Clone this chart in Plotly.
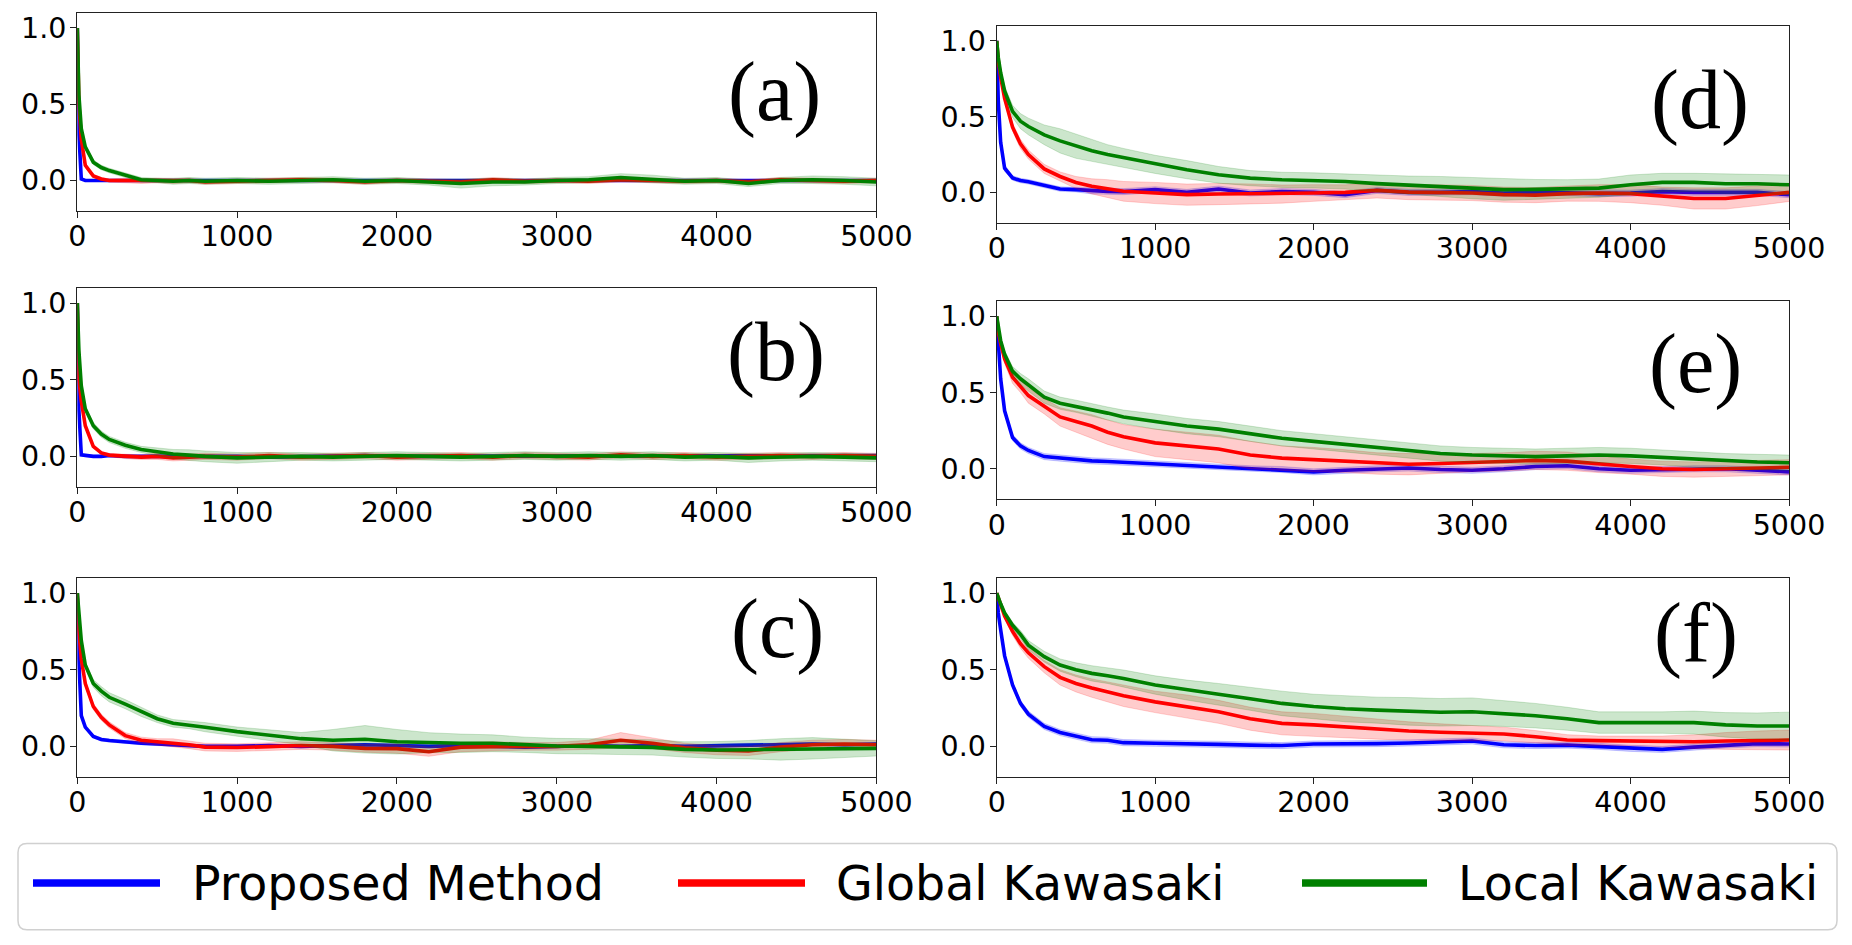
import numpy as np
import plotly.graph_objects as go

# ---------------- data ----------------
STEPS = [0, 10, 25, 50, 100, 150, 200, 300, 400, 500, 600, 700, 800, 1000, 1200, 1400, 1600,
         1800, 2000, 2200, 2400, 2600, 2800, 3000, 3200, 3400, 3600, 3800, 4000, 4200, 4400,
         4600, 4800, 5000]
X_TICKS = [0, 1000, 2000, 3000, 4000, 5000]
Y_TICKS = [0.0, 0.5, 1.0]
SERIES_NAMES = ["Proposed Method", "Global Kawasaki", "Local Kawasaki"]
PANEL_LABELS = ["(a)", "(b)", "(c)", "(d)", "(e)", "(f)"]

# (a)
a_blue = [1.0, 0.30, 0.01, 0.0, 0.0, 0.0, 0.0, 0.0, 0.0, 0.0, 0.0, 0.0, 0.0, 0.0, 0.0, 0.0, 0.0,
          0.0, 0.0, 0.0, 0.0, 0.0, 0.0, 0.0, 0.0, 0.0, 0.0, 0.0, 0.0, 0.0, 0.0, 0.0, 0.0, 0.0]
a_blue_sd = [0.0, 0.01, 0.005, 0.005, 0.005, 0.005, 0.005, 0.005, 0.005, 0.005, 0.005, 0.005,
             0.005, 0.005, 0.005, 0.005, 0.005, 0.005, 0.005, 0.005, 0.005, 0.005, 0.005, 0.005,
             0.005, 0.005, 0.005, 0.005, 0.005, 0.005, 0.005, 0.005, 0.005, 0.005]
a_red = [1.0, 0.50, 0.27, 0.10, 0.03, 0.01, 0.0, 0.0, -0.005, 0.0, -0.005, 0.0, -0.01, -0.005,
         0.0, 0.005, 0.0, -0.01, 0.0, -0.005, -0.01, 0.005, -0.005, 0.0, -0.005, 0.005, 0.0,
         -0.005, 0.0, -0.01, 0.005, 0.0, -0.005, 0.0]
a_red_sd = [0.0, 0.02, 0.02, 0.015, 0.01, 0.01, 0.01, 0.015, 0.015, 0.015, 0.015, 0.015, 0.015,
            0.015, 0.015, 0.015, 0.015, 0.015, 0.015, 0.015, 0.015, 0.015, 0.015, 0.015, 0.015,
            0.015, 0.015, 0.015, 0.015, 0.015, 0.015, 0.015, 0.015, 0.015]
a_green = [1.0, 0.56, 0.34, 0.22, 0.12, 0.085, 0.065, 0.035, 0.005, 0.0, -0.005, 0.0, -0.005,
           0.0, -0.005, 0.0, 0.005, -0.005, 0.0, -0.01, -0.02, -0.01, -0.01, 0.0, 0.005, 0.02,
           0.01, -0.005, 0.0, -0.02, 0.0, 0.005, 0.0, -0.01]
a_green_sd = [0.0, 0.01, 0.01, 0.015, 0.015, 0.015, 0.015, 0.015, 0.015, 0.015, 0.02, 0.02, 0.02,
              0.02, 0.02, 0.02, 0.02, 0.02, 0.02, 0.02, 0.03, 0.025, 0.02, 0.02, 0.02, 0.025,
              0.025, 0.02, 0.02, 0.02, 0.02, 0.025, 0.025, 0.025]

# (b)
b_blue = [1.0, 0.30, 0.01, 0.005, 0.0, 0.0, 0.005, 0.0, 0.0, 0.005, 0.0, 0.0, 0.0, 0.0, -0.005,
          0.0, 0.0, 0.005, 0.0, 0.0, 0.005, 0.0, 0.0, 0.0, 0.005, 0.0, 0.0, 0.005, 0.0, 0.0,
          0.0, 0.005, 0.0, 0.005]
b_blue_sd = [0.0, 0.01, 0.008, 0.008, 0.008, 0.008, 0.008, 0.008, 0.008, 0.008, 0.008, 0.008,
             0.008, 0.008, 0.008, 0.008, 0.008, 0.008, 0.008, 0.008, 0.008, 0.008, 0.008, 0.008,
             0.008, 0.008, 0.008, 0.008, 0.008, 0.008, 0.008, 0.008, 0.008, 0.008]
b_red = [1.0, 0.50, 0.36, 0.20, 0.065, 0.022, 0.008, 0.0, -0.005, 0.0, -0.01, -0.005, 0.0,
         -0.005, 0.005, -0.005, 0.0, 0.005, -0.005, 0.0, 0.005, -0.005, 0.005, 0.0, -0.005,
         0.01, 0.0, 0.005, -0.005, 0.0, 0.005, 0.0, 0.005, 0.0]
b_red_sd = [0.0, 0.02, 0.02, 0.015, 0.01, 0.01, 0.01, 0.015, 0.015, 0.02, 0.02, 0.02, 0.02,
            0.02, 0.02, 0.02, 0.02, 0.02, 0.02, 0.02, 0.02, 0.02, 0.02, 0.02, 0.02, 0.02, 0.02,
            0.02, 0.02, 0.02, 0.02, 0.02, 0.02, 0.02]
b_green = [1.0, 0.69, 0.46, 0.31, 0.20, 0.145, 0.11, 0.072, 0.045, 0.03, 0.015, 0.008, 0.0,
           -0.01, -0.005, 0.0, -0.005, 0.0, 0.005, 0.0, -0.005, 0.0, 0.005, 0.0, 0.005, 0.0,
           0.005, -0.005, 0.0, -0.01, -0.005, 0.0, -0.005, -0.01]
b_green_sd = [0.0, 0.01, 0.015, 0.015, 0.02, 0.02, 0.02, 0.02, 0.02, 0.025, 0.03, 0.035, 0.035,
              0.035, 0.03, 0.025, 0.025, 0.025, 0.025, 0.025, 0.025, 0.025, 0.025, 0.025, 0.025,
              0.025, 0.025, 0.025, 0.025, 0.03, 0.025, 0.025, 0.025, 0.025]

# (c)
c_blue = [1.0, 0.55, 0.20, 0.125, 0.065, 0.045, 0.038, 0.028, 0.02, 0.015, 0.01, 0.003, 0.0,
          0.0, 0.005, 0.0, 0.005, 0.01, 0.005, 0.0, 0.005, 0.0, -0.005, 0.0, 0.005, 0.0, 0.005,
          0.0, 0.005, 0.01, 0.01, 0.015, 0.01, 0.015]
c_blue_sd = [0.0, 0.02, 0.015, 0.01, 0.01, 0.01, 0.01, 0.01, 0.01, 0.01, 0.01, 0.01, 0.01,
             0.01, 0.01, 0.01, 0.01, 0.01, 0.01, 0.01, 0.01, 0.01, 0.01, 0.01, 0.01, 0.01, 0.01,
             0.01, 0.01, 0.01, 0.01, 0.01, 0.01, 0.01]
c_red = [1.0, 0.75, 0.57, 0.41, 0.26, 0.19, 0.14, 0.07, 0.04, 0.03, 0.024, 0.01, -0.005, -0.008,
         -0.002, 0.005, 0.0, -0.013, -0.015, -0.035, -0.005, 0.0, 0.0, 0.0, 0.01, 0.04, 0.02,
         -0.01, -0.025, -0.03, -0.005, 0.01, 0.015, 0.01]
c_red_sd = [0.0, 0.01, 0.015, 0.02, 0.02, 0.02, 0.02, 0.02, 0.02, 0.02, 0.025, 0.025, 0.025,
            0.025, 0.025, 0.025, 0.025, 0.025, 0.03, 0.03, 0.03, 0.03, 0.025, 0.025, 0.03, 0.05,
            0.035, 0.03, 0.03, 0.03, 0.03, 0.03, 0.03, 0.03]
c_green = [1.0, 0.85, 0.69, 0.53, 0.41, 0.36, 0.32, 0.275, 0.225, 0.18, 0.15, 0.14, 0.125,
           0.096, 0.074, 0.05, 0.04, 0.046, 0.03, 0.024, 0.02, 0.02, 0.01, 0.002, 0.0, -0.005,
           -0.007, -0.02, -0.024, -0.022, -0.02, -0.013, -0.012, -0.013]
c_green_sd = [0.0, 0.01, 0.015, 0.02, 0.025, 0.03, 0.03, 0.03, 0.03, 0.025, 0.025, 0.025, 0.03,
              0.03, 0.035, 0.04, 0.07, 0.09, 0.08, 0.065, 0.06, 0.055, 0.05, 0.05, 0.05, 0.05,
              0.05, 0.05, 0.055, 0.06, 0.07, 0.07, 0.06, 0.05]

# (d)
d_blue = [1.0, 0.60, 0.33, 0.16, 0.095, 0.078, 0.07, 0.044, 0.022, 0.018, 0.01, 0.007, 0.005,
          0.018, 0.0, 0.022, -0.004, 0.005, 0.0, -0.015, 0.013, 0.0, 0.0, 0.005, -0.005, 0.0,
          -0.002, -0.008, -0.005, 0.005, 0.0, 0.0, 0.0, -0.015]
d_blue_sd = [0.0, 0.02, 0.02, 0.02, 0.015, 0.015, 0.015, 0.015, 0.015, 0.015, 0.02, 0.02, 0.02,
             0.02, 0.02, 0.02, 0.02, 0.02, 0.02, 0.02, 0.02, 0.02, 0.02, 0.02, 0.02, 0.02, 0.02,
             0.02, 0.02, 0.02, 0.02, 0.02, 0.02, 0.02]
d_red = [1.0, 0.87, 0.76, 0.62, 0.43, 0.32, 0.25, 0.155, 0.105, 0.065, 0.04, 0.024, 0.007,
         -0.004, -0.015, -0.011, -0.009, -0.011, -0.004, 0.0, 0.013, 0.002, 0.0, -0.004,
         -0.015, -0.018, -0.008, -0.004, -0.008, -0.025, -0.04, -0.04, -0.022, 0.0]
d_red_sd = [0.0, 0.01, 0.015, 0.02, 0.025, 0.03, 0.03, 0.03, 0.03, 0.04, 0.05, 0.06, 0.065, 0.07,
            0.07, 0.07, 0.065, 0.06, 0.055, 0.05, 0.05, 0.05, 0.05, 0.05, 0.05, 0.05, 0.05,
            0.055, 0.06, 0.06, 0.07, 0.07, 0.065, 0.06]
d_green = [1.0, 0.89, 0.79, 0.67, 0.535, 0.47, 0.435, 0.38, 0.34, 0.305, 0.275, 0.25, 0.23,
           0.185, 0.15, 0.116, 0.094, 0.083, 0.079, 0.072, 0.058, 0.048, 0.04, 0.028, 0.018,
           0.02, 0.024, 0.028, 0.05, 0.066, 0.066, 0.057, 0.057, 0.05]
d_green_sd = [0.0, 0.01, 0.02, 0.03, 0.04, 0.05, 0.055, 0.065, 0.08, 0.08, 0.07, 0.065, 0.06,
              0.06, 0.06, 0.055, 0.05, 0.05, 0.05, 0.05, 0.055, 0.06, 0.065, 0.07, 0.07, 0.065,
              0.06, 0.06, 0.065, 0.06, 0.06, 0.065, 0.065, 0.065]

# (e)
e_blue = [1.0, 0.79, 0.59, 0.38, 0.205, 0.15, 0.12, 0.08, 0.07, 0.06, 0.052, 0.048, 0.043, 0.03,
          0.02, 0.01, 0.0, -0.005, -0.02, -0.01, 0.0, 0.005, -0.005, -0.01, 0.0, 0.015, 0.02,
          0.0, -0.01, -0.005, 0.0, 0.0, -0.01, -0.02]
e_blue_sd = [0.0, 0.02, 0.02, 0.02, 0.02, 0.02, 0.02, 0.02, 0.02, 0.02, 0.02, 0.02, 0.02, 0.02,
             0.02, 0.02, 0.02, 0.02, 0.02, 0.02, 0.02, 0.02, 0.02, 0.02, 0.02, 0.02, 0.02, 0.02,
             0.02, 0.02, 0.02, 0.02, 0.02, 0.02]
e_red = [1.0, 0.90, 0.82, 0.72, 0.60, 0.54, 0.48, 0.41, 0.34, 0.31, 0.28, 0.24, 0.21, 0.17,
         0.15, 0.13, 0.09, 0.07, 0.06, 0.05, 0.035, 0.03, 0.035, 0.04, 0.045, 0.055, 0.05, 0.03,
         0.015, 0.0, -0.005, 0.0, 0.005, 0.01]
e_red_sd = [0.0, 0.01, 0.02, 0.03, 0.04, 0.04, 0.05, 0.05, 0.06, 0.07, 0.075, 0.08, 0.08, 0.09,
            0.09, 0.09, 0.09, 0.08, 0.08, 0.075, 0.07, 0.07, 0.065, 0.06, 0.06, 0.06, 0.06,
            0.055, 0.05, 0.05, 0.05, 0.05, 0.05, 0.05]
e_green = [1.0, 0.93, 0.84, 0.75, 0.64, 0.59, 0.55, 0.47, 0.43, 0.41, 0.385, 0.365, 0.34, 0.31,
           0.28, 0.26, 0.23, 0.20, 0.18, 0.16, 0.14, 0.12, 0.10, 0.09, 0.085, 0.08, 0.085, 0.09,
           0.085, 0.075, 0.06, 0.05, 0.045, 0.04]
e_green_sd = [0.0, 0.01, 0.02, 0.025, 0.03, 0.035, 0.04, 0.04, 0.04, 0.04, 0.04, 0.04, 0.045,
              0.05, 0.05, 0.05, 0.05, 0.05, 0.05, 0.05, 0.05, 0.05, 0.05, 0.05, 0.05, 0.05,
              0.05, 0.05, 0.05, 0.05, 0.05, 0.05, 0.05, 0.05]

# (f)
f_blue = [1.0, 0.87, 0.76, 0.59, 0.40, 0.28, 0.21, 0.13, 0.09, 0.064, 0.043, 0.04, 0.024, 0.02,
          0.018, 0.013, 0.008, 0.005, 0.015, 0.015, 0.018, 0.022, 0.028, 0.035, 0.01, 0.005,
          0.008, 0.0, -0.013, -0.02, -0.005, 0.009, 0.018, 0.015]
f_blue_sd = [0.0, 0.01, 0.015, 0.02, 0.02, 0.02, 0.02, 0.02, 0.02, 0.02, 0.02, 0.02, 0.02, 0.02,
             0.02, 0.02, 0.02, 0.02, 0.02, 0.02, 0.02, 0.02, 0.02, 0.02, 0.02, 0.02, 0.02, 0.02,
             0.02, 0.02, 0.02, 0.02, 0.02, 0.02]
f_red = [1.0, 0.97, 0.92, 0.85, 0.75, 0.67, 0.61, 0.52, 0.45, 0.41, 0.38, 0.355, 0.33, 0.29,
         0.26, 0.225, 0.18, 0.15, 0.14, 0.125, 0.112, 0.10, 0.092, 0.085, 0.08, 0.063, 0.041,
         0.037, 0.035, 0.032, 0.03, 0.035, 0.04, 0.041]
f_red_sd = [0.0, 0.005, 0.01, 0.015, 0.025, 0.03, 0.035, 0.04, 0.05, 0.055, 0.06, 0.065, 0.07,
            0.07, 0.075, 0.075, 0.075, 0.075, 0.075, 0.07, 0.065, 0.06, 0.055, 0.05, 0.045, 0.04,
            0.035, 0.03, 0.03, 0.035, 0.045, 0.055, 0.06, 0.065]
f_green = [1.0, 0.97, 0.93, 0.87, 0.79, 0.73, 0.66, 0.585, 0.53, 0.50, 0.476, 0.46, 0.443, 0.40,
           0.367, 0.34, 0.31, 0.28, 0.26, 0.245, 0.236, 0.228, 0.222, 0.226, 0.215, 0.20, 0.18,
           0.155, 0.155, 0.155, 0.155, 0.14, 0.133, 0.133]
f_green_sd = [0.0, 0.005, 0.01, 0.015, 0.02, 0.025, 0.03, 0.035, 0.04, 0.045, 0.05, 0.05, 0.055,
              0.06, 0.065, 0.07, 0.075, 0.08, 0.08, 0.085, 0.085, 0.09, 0.09, 0.09, 0.085, 0.08,
              0.075, 0.07, 0.07, 0.07, 0.075, 0.08, 0.085, 0.09]

# ---------------- styling / layout ----------------
W, H = 1852, 945
COLORS = ["#0000ff", "#ff0000", "#008000"]
FILLS = ["rgba(0,0,255,0.2)", "rgba(255,0,0,0.2)", "rgba(0,128,0,0.2)"]
EDGES = ["rgba(0,0,255,0.22)", "rgba(255,0,0,0.22)", "rgba(0,128,0,0.22)"]

# panel rectangles in pixels: (left, right, top, bottom)
PANEL_PX = [
    (77.3, 876.4, 12.7, 211.0),
    (77.3, 876.4, 287.7, 487.0),
    (77.3, 876.4, 577.7, 777.0),
    (996.7, 1789.0, 25.7, 222.7),
    (996.7, 1789.0, 301.0, 499.3),
    (996.7, 1789.0, 577.7, 777.0),
]
LABEL_POS = [(0.873, 0.598), (0.874, 0.677), (0.876, 0.743),
             (0.888, 0.622), (0.882, 0.682), (0.883, 0.722)]

panels = [
    ([a_blue, a_red, a_green], [a_blue_sd, a_red_sd, a_green_sd]),
    ([b_blue, b_red, b_green], [b_blue_sd, b_red_sd, b_green_sd]),
    ([c_blue, c_red, c_green], [c_blue_sd, c_red_sd, c_green_sd]),
    ([d_blue, d_red, d_green], [d_blue_sd, d_red_sd, d_green_sd]),
    ([e_blue, e_red, e_green], [e_blue_sd, e_red_sd, e_green_sd]),
    ([f_blue, f_red, f_green], [f_blue_sd, f_red_sd, f_green_sd]),
]

fig = go.Figure()
x = np.array(STEPS)
layout_axes = {}
annotations = []

for i, ((means, sds), (l, r, t, b)) in enumerate(zip(panels, PANEL_PX)):
    n = i + 1
    xa = "x" if n == 1 else f"x{n}"
    ya = "y" if n == 1 else f"y{n}"
    for k in range(3):
        m = np.array(means[k], dtype=float)
        s = np.array(sds[k], dtype=float)
        assert len(m) == len(x) and len(s) == len(x)
        fig.add_trace(go.Scatter(x=x, y=m + s, mode="lines", xaxis=xa, yaxis=ya,
                                 line=dict(color=EDGES[k], width=0.8), showlegend=False,
                                 hoverinfo="skip"))
        fig.add_trace(go.Scatter(x=x, y=m - s, mode="lines", xaxis=xa, yaxis=ya,
                                 line=dict(color=EDGES[k], width=0.8), fill="tonexty",
                                 fillcolor=FILLS[k], showlegend=False, hoverinfo="skip"))
        fig.add_trace(go.Scatter(x=x, y=m, mode="lines", xaxis=xa, yaxis=ya,
                                 name=SERIES_NAMES[k], line=dict(color=COLORS[k], width=3.6),
                                 showlegend=False))
    axcommon = dict(showline=True, mirror=True, linecolor="#222222", linewidth=1.3,
                    ticks="outside", ticklen=6, tickwidth=1.3, tickcolor="#222222",
                    showgrid=False, zeroline=False, automargin=False,
                    tickfont=dict(family="DejaVu Sans", size=28.5, color="black"))
    layout_axes["xaxis" if n == 1 else f"xaxis{n}"] = dict(
        domain=[l / W, r / W], anchor=ya, range=[0, 5000], tickvals=X_TICKS,
        ticklabelstandoff=-6, **axcommon)
    layout_axes["yaxis" if n == 1 else f"yaxis{n}"] = dict(
        domain=[1 - b / H, 1 - t / H], anchor=xa, range=[-0.2, 1.1], tickvals=Y_TICKS,
        tickformat=".1f", ticklabelstandoff=-2, **axcommon)
    lx, ly = LABEL_POS[i]
    annotations.append(dict(text=PANEL_LABELS[i], x=lx, y=ly,
                            xref=f"{xa} domain", yref=f"{ya} domain",
                            xanchor="center", yanchor="middle", showarrow=False,
                            font=dict(family="Liberation Serif", size=84, color="black")))

# ---------------- legend (drawn manually) ----------------
LEG_LEFT, LEG_RIGHT, LEG_TOP, LEG_BOTTOM = 18, 1837, 843.5, 929.7
LEG_Y = 883
LEG_LINES = [(33, 160), (678, 805), (1302, 1427)]
LEG_TEXT_X = [190, 834, 1456]

def px(xp):
    return xp / W

def py(yp):
    return 1 - yp / H

rad = 9
path = (f"M {px(LEG_LEFT + rad)},{py(LEG_TOP)} L {px(LEG_RIGHT - rad)},{py(LEG_TOP)} "
        f"Q {px(LEG_RIGHT)},{py(LEG_TOP)} {px(LEG_RIGHT)},{py(LEG_TOP + rad)} "
        f"L {px(LEG_RIGHT)},{py(LEG_BOTTOM - rad)} "
        f"Q {px(LEG_RIGHT)},{py(LEG_BOTTOM)} {px(LEG_RIGHT - rad)},{py(LEG_BOTTOM)} "
        f"L {px(LEG_LEFT + rad)},{py(LEG_BOTTOM)} "
        f"Q {px(LEG_LEFT)},{py(LEG_BOTTOM)} {px(LEG_LEFT)},{py(LEG_BOTTOM - rad)} "
        f"L {px(LEG_LEFT)},{py(LEG_TOP + rad)} "
        f"Q {px(LEG_LEFT)},{py(LEG_TOP)} {px(LEG_LEFT + rad)},{py(LEG_TOP)} Z")
shapes = [dict(type="path", path=path, xref="paper", yref="paper",
               line=dict(color="#d0d0d0", width=1.5), fillcolor="rgba(255,255,255,0.8)")]
for k, (x0, x1) in enumerate(LEG_LINES):
    shapes.append(dict(type="line", xref="paper", yref="paper", x0=px(x0), x1=px(x1),
                       y0=py(LEG_Y), y1=py(LEG_Y), line=dict(color=COLORS[k], width=7.5)))
    annotations.append(dict(text=SERIES_NAMES[k], x=px(LEG_TEXT_X[k]), y=py(LEG_Y),
                            xref="paper", yref="paper", xanchor="left", yanchor="middle",
                            showarrow=False,
                            font=dict(family="DejaVu Sans", size=47.5, color="black")))

fig.update_layout(width=W, height=H, margin=dict(l=0, r=0, t=0, b=0, pad=0, autoexpand=False),
                  paper_bgcolor="white", plot_bgcolor="white", showlegend=False,
                  shapes=shapes, annotations=annotations, **layout_axes)

fig.write_html("out.html")
